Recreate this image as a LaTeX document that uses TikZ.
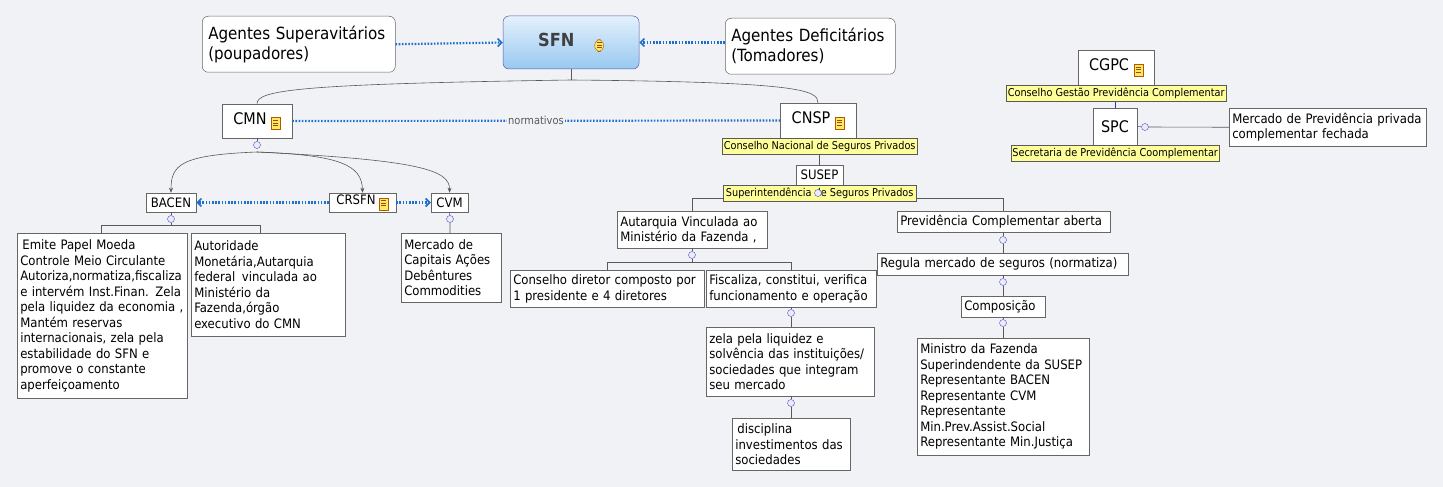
\documentclass[tikz,border=0pt]{standalone}
\usepackage{fontspec}
\setmainfont{DejaVu Sans Condensed}
\usetikzlibrary{arrows.meta,shadows}
\definecolor{bg}{HTML}{F1F2F6}
\definecolor{dblue}{HTML}{1F6FD0}
\definecolor{yel}{HTML}{FFFF99}
\definecolor{sfnt}{HTML}{E4F1FD}
\definecolor{sfnb}{HTML}{98C8F0}
\newcommand{\nicon}{\tikz[baseline=-1pt]{\draw[fill=yellow!80!orange!60,draw=orange!70!black,line width=0.4pt](0,-6pt) rectangle (9pt,6pt);\foreach \yy in {3,0.5,-2}{\draw[orange!60!black,line width=0.5pt](2pt,\yy pt)--(7pt,\yy pt);}}}
\tikzset{
 box/.style={draw=gray!80!black,fill=white,line width=0.5pt,font=\fontsize{13}{15.5}\selectfont,align=left,inner sep=3pt,anchor=north west},
 bx/.style 2 args={box,text width=#1pt-6pt,minimum height=#2pt},
 big/.style={box,rounded corners=6pt,font=\fontsize{16.8}{20}\selectfont,inner sep=6pt},
 lab/.style={draw=gray!70!black,fill=yel,font=\fontsize{10.8}{12}\selectfont,inner sep=1pt,anchor=north west,minimum height=16pt},
 ln/.style={draw=gray!70!black,line width=0.6pt},
 arr/.style={ln,-{Stealth[length=5pt,width=4pt]}},
 dot/.style={draw=dblue,line width=2.2pt,dash pattern=on 1.6pt off 1.6pt},
 dtip/.style={-{Straight Barb[length=4pt,width=8pt,line width=1.6pt]}},
 col/.style={circle,draw=gray!60!blue,fill=blue!8,inner sep=0pt,minimum size=7pt},
}
\begin{document}
\begin{tikzpicture}[x=1pt,y=-1pt]
\fill[bg] (0,0) rectangle (1443,487);
\useasboundingbox (0,0) rectangle (1443,487);
% top
\node[big,text width=181pt,minimum height=56pt] (sup) at (202,16) {Agentes Superavitários\\(poupadores)};
\node[big,anchor=center,minimum width=136pt,minimum height=53pt,top color=sfnt,bottom color=sfnb,draw=blue!30!gray,font=\fontsize{18}{20}\selectfont\bfseries] (sfn) at (571,42.5) {\color{black!75}SFN\hspace{20pt}\nicon};
\node[big,text width=158pt,minimum height=56pt] (def) at (725,18) {Agentes Deficitários\\(Tomadores)};
\draw[dot,dtip] (sup.east) -- (sfn.west);
\draw[dot,dtip] (def.west|-sfn.west) -- (sfn.east);
% CMN CNSP
\node[box,font=\fontsize{16}{18}\selectfont,minimum width=70pt,minimum height=34pt,anchor=center] (cmn) at (257,121) {CMN \nicon};
\node[box,font=\fontsize{16}{18}\selectfont,minimum width=76pt,minimum height=35pt,anchor=center] (cnsp) at (818,120.5) {CNSP \nicon};
\coordinate (sfnb) at (571,80);
\draw[ln] (sfn.south) -- (sfnb);
\draw[ln] (sfnb) .. controls (300,84) and (257,90) .. (cmn.north);
\draw[ln] (sfnb) .. controls (800,82) and (818,90) .. (cnsp.north);
\draw[dot] (cmn.east) -- node[fill=bg,inner sep=1pt,font=\fontsize{11}{12}\selectfont,text=gray!70!black]{normativos} (cnsp.west);
\node[lab,minimum width=195pt] (lcnsp) at (722,138) {Conselho Nacional de Seguros Privados};
% CMN children
\node[box,anchor=center,minimum width=50pt,minimum height=19pt,inner sep=1pt] (bacen) at (171,202.5) {BACEN};
\node[box,anchor=center,minimum width=67pt,minimum height=19pt,inner sep=1pt] (crsfn) at (362.5,202.5) {CRSFN \nicon};
\node[box,anchor=center,minimum width=37pt,minimum height=19pt,inner sep=1pt] (cvm) at (449.5,202.5) {CVM};
\node[col] (c1) at (257,145) {};
\draw[ln] (cmn.south) -- (c1);
\coordinate (hub) at (257,152);
\draw[arr] (hub) .. controls (180,155) and (171,165) .. (bacen.north);
\draw[arr] (hub) .. controls (340,155) and (362,165) .. (crsfn.north);
\draw[arr] (hub) .. controls (420,160) and (450,170) .. (cvm.north);
\draw[dot,dtip] (crsfn.west) -- (bacen.east);
\draw[dot,dtip] (crsfn.east) -- (cvm.west);
\node[bx={170}{165}] (b1) at (17,233) {\,Emite Papel Moeda\\Controle Meio Circulante\\Autoriza,normatiza,fiscaliza\\e intervém Inst.Finan. Zela\\pela liquidez da economia ,\\Mantém reservas\\internacionais, zela pela\\estabilidade do SFN e\\promove o constante\\aperfeiçoamento};
\node[bx={154}{103}] (b2) at (191,233) {Autoridade\\Monetária,Autarquia\\federal \,vinculada ao\\Ministério da\\Fazenda,órgão\\executivo do CMN};
\node[bx={100}{69}] (b3) at (401,233) {Mercado de\\Capitais Ações\\Debêntures\\Commodities};
\node[col] (c2) at (171,219) {};
\draw[ln] (bacen.south) -- (c2) -- (171,225);
\draw[ln] (101,233) -- (101,225) -- (260,225) -- (260,233);
\node[col] (c3) at (450,219) {};
\draw[ln] (cvm.south) -- (c3) -- (450,233);
% SUSEP
\node[box,anchor=center,minimum width=47pt,minimum height=20pt,inner sep=1pt] (susep) at (819.5,175) {SUSEP};
\draw[ln] (lcnsp.south-|susep) -- (susep.north);
\node[lab,minimum width=193pt] (lsusep) at (723,185) {Superintendência de Seguros Privados};
\node[col] at (818,193) {};
\node[bx={150}{37}] (aut) at (617,211) {Autarquia Vinculada ao\\Ministério da Fazenda ,};
\node[bx={213}{21}] (prev) at (897,211) {Previdência Complementar aberta};
\draw[ln] (692,211) -- (692,198) -- (723,198);
\draw[ln] (916,198) -- (1003,198) -- (1003,211);
\node[bx={194}{37}] (cons) at (510,270) {Conselho diretor composto por\\1 presidente e 4 diretores};
\node[bx={170}{37}] (fisc) at (706,270) {Fiscaliza, constitui, verifica\\funcionamento e operação};
\node[col] (c4) at (692,255) {};
\draw[ln] (692,248) -- (c4) -- (692,262);
\draw[ln] (607,270) -- (607,262) -- (791,262) -- (791,270);
\node[bx={168}{69}] (zela) at (706,327) {zela pela liquidez e\\solvência das instituições/\\sociedades que integram\\seu mercado};
\node[bx={118}{52}] (disc) at (732,418) {\,disciplina\\investimentos das\\sociedades};
\node[col] (c5) at (791,313) {};
\draw[ln] (791,307) -- (c5) -- (791,327);
\node[col] (c6) at (791,403) {};
\draw[ln] (791,396) -- (c6) -- (791,418);
\node[bx={251}{22}] (reg) at (877,253) {Regula mercado de seguros (normatiza)};
\node[bx={84}{21}] (comp) at (961,296) {Composição};
\node[bx={172}{117}] (min) at (917,338) {Ministro da Fazenda\\Superindendente da SUSEP\\Representante BACEN\\Representante CVM\\Representante\\Min.Prev.Assist.Social\\Representante Min.Justiça};
\node[col] (c7) at (1003,240) {};
\draw[ln] (1003,232) -- (c7) -- (1003,253);
\node[col] (c8) at (1003,282) {};
\draw[ln] (1003,275) -- (c8) -- (1003,296);
\node[col] (c9) at (1003,323) {};
\draw[ln] (1003,317) -- (c9) -- (1003,338);
% right
\node[box,font=\fontsize{16}{18}\selectfont,minimum width=76pt,minimum height=35pt,anchor=center] (cgpc) at (1116,67.5) {CGPC \nicon};
\node[box,font=\fontsize{16}{18}\selectfont,minimum width=44pt,minimum height=37pt,anchor=center] (spc) at (1115,126.5) {SPC};
\draw[draw=blue!60!gray,line width=0.6pt] (1115,85) -- (spc.north);
\node[lab,minimum width=220pt] at (1006,85) {Conselho Gestão Previdência Complementar};
\node[lab,minimum width=208pt] at (1011,145) {Secretaria de Previdência Coomplementar};
\node[bx={197}{38}] (merc) at (1229,108) {Mercado de Previdência privada\\complementar fechada};
\node[col] (c10) at (1145,127) {};
\draw[ln] (spc.east) -- (c10) -- (merc.west);
\end{tikzpicture}
\end{document}
